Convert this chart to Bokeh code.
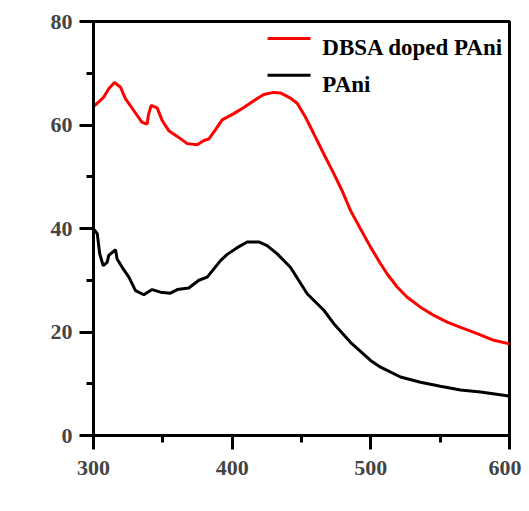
import math
from bokeh.plotting import figure
from bokeh.models import Range1d, FixedTicker, Label
from bokeh.core.properties import value
from bokeh.embed import file_html
from bokeh.resources import INLINE

# DBSA doped PAni
wl_dbsa = [300, 302.7, 307.4, 311, 315.1, 319.5, 323, 329, 335, 338.7, 339.5, 341.6, 345.9,
           349.5, 354.3, 360.4, 367.6, 374.8, 379.6, 383.2, 388, 392.8, 401.2, 408.4, 415.6,
           422.8, 430, 434.8, 442, 446.9, 452.9, 458.9, 466.1, 473.3, 479.3, 485.3, 492.6,
           499.8, 507, 511.8, 519, 526.2, 535.8, 545.5, 555.1, 564.7, 576.7, 588.7, 600]
ipce_dbsa = [63.6, 64.2, 65.4, 67.0, 68.2, 67.3, 65.1, 62.8, 60.5, 60.2, 61.8, 63.8, 63.3,
             60.9, 58.9, 57.8, 56.4, 56.2, 57.0, 57.3, 59.1, 61.0, 62.2, 63.4, 64.7,
             65.9, 66.3, 66.2, 65.2, 64.2, 61.5, 58.3, 54.4, 50.6, 47.3, 43.5, 39.9,
             36.4, 33.2, 31.2, 28.7, 26.7, 24.8, 23.2, 21.9, 20.9, 19.7, 18.4, 17.7]

# PAni
wl_pani = [300, 302.7, 304.5, 307, 309.9, 311, 315.9, 317, 320.7, 325.5, 330.3, 336.3, 342.3,
           348.3, 355.5, 360.4, 368.7, 376, 382, 391.6, 396.4, 403.6, 410.8, 419.2, 425.2,
           432.5, 442, 454.1, 466.1, 473.3, 485.3, 499.8, 507, 521.4, 535.8, 550.2, 564.7,
           579.1, 598.3, 600]
ipce_pani = [39.9, 39.0, 35.1, 32.8, 33.5, 34.8, 35.9, 34.1, 32.5, 30.6, 28.0, 27.2, 28.2,
             27.7, 27.5, 28.2, 28.5, 30.0, 30.6, 33.8, 35.0, 36.3, 37.4, 37.4, 36.7,
             35.1, 32.5, 27.4, 24.2, 21.6, 18.0, 14.5, 13.2, 11.3, 10.3, 9.5, 8.8,
             8.4, 7.7, 7.7]

series_labels = ["DBSA doped PAni", "PAni"]
series_colors = ["#ff0000", "black"]
x_title = "λ (nm)"
y_title = "IPCE (%)"

x_major = [300, 400, 500, 600]
x_minor = [350, 450, 550]
y_major = [0, 20, 40, 60, 80]
y_minor = [10, 30, 50, 70]

FONT = "Liberation Serif"

p = figure(width=521, height=507, output_backend="svg", toolbar_location=None,
           x_range=Range1d(300, 600), y_range=Range1d(0, 80),
           min_border_left=93, min_border_right=12, min_border_top=21, min_border_bottom=72)
p.grid.visible = False
p.outline_line_color = "black"
p.outline_line_width = 3

p.line(wl_dbsa, ipce_dbsa, line_color=series_colors[0], line_width=3)
p.line(wl_pani, ipce_pani, line_color=series_colors[1], line_width=3)

# legend (drawn as glyphs, top right of the frame)
leg_x0, leg_x1, leg_tx = 425.5, 456.5, 465.0
leg_line_y = [76.7, 69.6]
leg_text_y = [75.0, 67.9]
p.segment(x0=[leg_x0, leg_x0], y0=leg_line_y, x1=[leg_x1, leg_x1], y1=leg_line_y,
          line_color=series_colors, line_width=3)
p.text(x=[leg_tx, leg_tx], y=leg_text_y, text=series_labels,
       text_font=value(FONT), text_font_style="bold", text_font_size="23px",
       text_color="black", text_baseline="alphabetic", text_align="left")

p.xaxis.ticker = FixedTicker(ticks=x_major, minor_ticks=x_minor)
p.yaxis.ticker = FixedTicker(ticks=y_major, minor_ticks=y_minor)

p.axis.axis_line_width = 3
p.axis.major_tick_line_width = 3
p.axis.minor_tick_line_width = 3
p.axis.major_tick_in = 0
p.axis.major_tick_out = 14
p.axis.minor_tick_in = 0
p.axis.minor_tick_out = 7
p.axis.major_label_text_font = FONT
p.axis.major_label_text_font_style = "bold"
p.axis.major_label_text_font_size = "22px"
p.yaxis.major_label_standoff = 7
p.xaxis.major_label_standoff = 11

# axis titles as annotations placed outside the frame
p.add_layout(Label(x=450, y=-12.4, text=x_title, text_font=FONT, text_font_style="bold",
                   text_font_size="22px", text_color="black",
                   text_align="center", text_baseline="alphabetic"))
p.add_layout(Label(x=250.2, y=40, text=y_title, angle=math.pi / 2,
                   text_font=FONT, text_font_style="bold",
                   text_font_size="22px", text_color="black",
                   text_align="center", text_baseline="middle"))

open("out.html", "w").write(file_html(p, INLINE))
